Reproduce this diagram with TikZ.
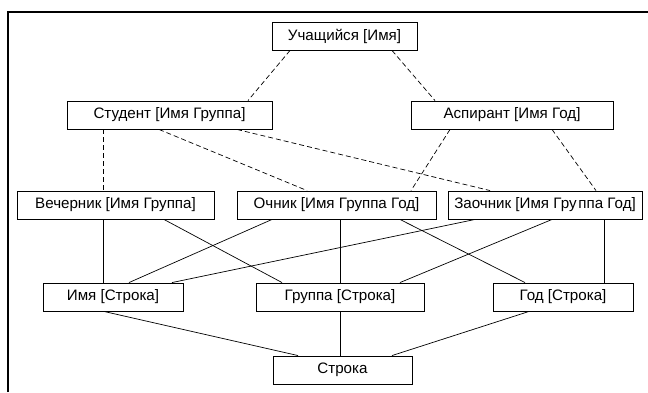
\documentclass[tikz,border=0pt]{standalone}
\usepackage{fontspec}
\setmainfont{Liberation Sans}
\begin{document}
\begin{tikzpicture}[x=1bp,y=-1bp,
  box/.style={draw,line width=0.9bp,minimum height=28bp,inner sep=0pt,anchor=center,font=\fontsize{15.2}{18}\selectfont},
  isa/.style={line width=0.7bp,dash pattern=on 5bp off 3bp},
  conn/.style={line width=0.7bp}]
\useasboundingbox (0,0) rectangle (648,392);
\draw[line width=2.5bp] (8,392) -- (8,12) -- (648,12);
\node[box,minimum width=145bp] (U) at (344.5,36) {Учащийся [Имя]};
\node[box,minimum width=205bp] (S) at (169.5,115) {Студент [Имя Группа]};
\node[box,minimum width=202bp] (A) at (512,115) {Аспирант [Имя Год]};
\node[box,minimum width=197bp] (V) at (115.5,205) {Вечерник [Имя Группа]};
\node[box,minimum width=199bp] (O) at (336.5,205) {Очник [Имя Группа Год]};
\node[box,minimum width=194bp] (Z) at (545,205) {Заочник [Имя Гру\kern0.12em ппа Год]};
\node[box,minimum width=140bp] (I) at (113,297) {Имя [Строка]};
\node[box,minimum width=168bp] (G) at (340,297) {Группа [Строка]};
\node[box,minimum width=140bp] (Y) at (563,297) {Год [Строка]};
\node[box,minimum width=139bp] (R) at (342.5,370) {Строка};
% dashed (inheritance)
\draw[isa] ([xshift=-54.5bp]U.south) -- ([xshift=78.5bp]S.north);
\draw[isa] ([xshift=47.5bp]U.south) -- ([xshift=-77bp]A.north);
\draw[isa] ([xshift=-12.5bp]V.north |- S.south) -- ([xshift=-12.5bp]V.north);
\draw[isa] ([xshift=-10.5bp]S.south) -- ([xshift=-29.5bp]O.north);
\draw[isa] ([xshift=67.5bp]S.south) -- ([xshift=-55bp]Z.north);
\draw[isa] ([xshift=-62bp]A.south) -- ([xshift=74.5bp]O.north);
\draw[isa] ([xshift=40bp]A.south) -- ([xshift=51bp]Z.north);
% solid (attributes)
\draw[conn] ([xshift=-10bp]I.north |- V.south) -- ([xshift=-10bp]I.north);
\draw[conn] ([xshift=48.5bp]V.south) -- ([xshift=-58bp]G.north);
\draw[conn] ([xshift=-64.5bp]O.south) -- ([xshift=16bp]I.north);
\draw[conn] (G.north |- O.south) -- (G.north);
\draw[conn] ([xshift=63.5bp]O.south) -- ([xshift=-38bp]Y.north);
\draw[conn] ([xshift=-70bp]Z.south) -- ([xshift=59bp]I.north);
\draw[conn] ([xshift=7bp]Z.south) -- ([xshift=60bp]G.north);
\draw[conn] ([xshift=41bp]Y.north |- Z.south) -- ([xshift=41bp]Y.north);
\draw[conn] ([xshift=-9bp]I.south) -- ([xshift=-44.5bp]R.north);
\draw[conn] (G.south) -- (G.south |- R.north);
\draw[conn] ([xshift=-34bp]Y.south) -- ([xshift=49.5bp]R.north);
\end{tikzpicture}
\end{document}
